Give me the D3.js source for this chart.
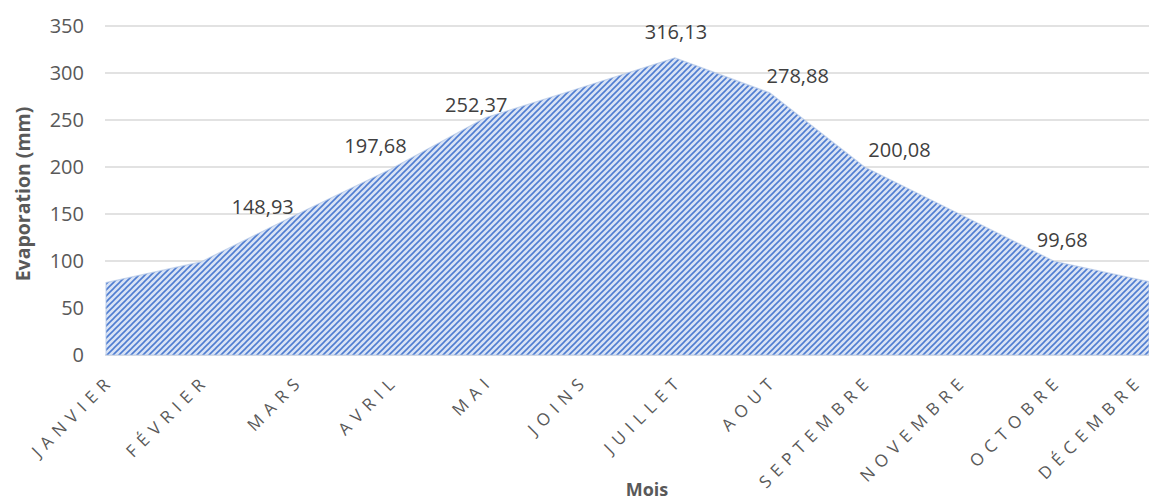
<!DOCTYPE html>
<html>
<head>
<meta charset="utf-8">
<script src="https://cdn.jsdelivr.net/npm/d3@7"></script>
<style>
  html, body { margin: 0; padding: 0; background: #fff; }
  svg { display: block; }
</style>
</head>
<body>
<svg id="chart" width="1149" height="502"></svg>
<script>
// ---- Data ----
const months = ["JANVIER", "FÉVRIER", "MARS", "AVRIL", "MAI", "JOINS", "JUILLET", "AOUT", "SEPTEMBRE", "NOVEMBRE", "OCTOBRE", "DÉCEMBRE"];
const evaporation = [77, 99, 148.93, 197.68, 252.37, 284, 316.13, 278.88, 200.08, 150, 99.68, 78];
const labelled = ["MARS", "AVRIL", "MAI", "JUILLET", "AOUT", "SEPTEMBRE", "OCTOBRE"];
const yTicks = [0, 50, 100, 150, 200, 250, 300, 350];
const yTitle = "Evaporation (mm)";
const xTitle = "Mois";

// ---- Layout ----
const svg = d3.select("#chart");
const plotL = 106, plotR = 1149, plotT = 26, plotB = 355;

const x = d3.scalePoint().domain(months).range([plotL, plotR]);
const y = d3.scaleLinear().domain([0, 350]).range([plotB, plotT]);

// Pattern ("/" diagonal hatch: bottom-left to top-right)
const defs = svg.append("defs");
const pw = 6;
const pat = defs.append("pattern")
  .attr("id", "hatch")
  .attr("patternUnits", "userSpaceOnUse")
  .attr("width", pw).attr("height", pw);
pat.append("rect").attr("width", pw).attr("height", pw).attr("fill", "#d9e3f5");
pat.append("path")
  .attr("d", `M${-1},${1} L${1},${-1} M0,${pw} L${pw},0 M${pw - 1},${pw + 1} L${pw + 1},${pw - 1}`)
  .attr("stroke", "#4f7dd1").attr("stroke-width", 1.6)
  .attr("stroke-linecap", "square");

// Gridlines
svg.append("g")
  .selectAll("line")
  .data(yTicks)
  .join("line")
  .attr("x1", plotL - 1).attr("x2", plotR)
  .attr("y1", d => y(d)).attr("y2", d => y(d))
  .attr("stroke", "#d9d9d9").attr("stroke-width", 1.3);

// Area
const area = d3.area()
  .x((d, i) => x(months[i]))
  .y0(y(0))
  .y1(d => y(d));

svg.append("path")
  .datum(evaporation)
  .attr("d", area)
  .attr("fill", "url(#hatch)")
  .attr("stroke", "#b4c7e7")
  .attr("stroke-width", 1.2)
  .attr("stroke-opacity", 0.7);

// Y axis tick labels
const yAxis = d3.axisLeft(y).tickValues(yTicks).tickSize(0).tickPadding(0);
const gy = svg.append("g").attr("transform", `translate(84,0)`).call(yAxis);
gy.select(".domain").remove();
gy.selectAll("text")
  .attr("font-family", "'Open Sans', sans-serif")
  .attr("font-size", 20)
  .attr("fill", "#595959");

// X axis tick labels
const ls = 6.5;
const xAxis = d3.axisBottom(x).tickSize(0).tickPadding(0);
const gx = svg.append("g").call(xAxis);
gx.select(".domain").remove();
gx.selectAll(".tick").attr("transform", null);
gx.selectAll(".tick text")
  .attr("y", null).attr("dy", null)
  .attr("text-anchor", "end")
  .attr("dx", ls)
  .attr("transform", d => `translate(${Math.min(x(d) + 5, plotR - 9)},386) rotate(-45)`)
  .attr("font-family", "'Open Sans', sans-serif")
  .attr("font-size", 17)
  .attr("letter-spacing", ls)
  .attr("fill", "#595959");

// Data labels (manually placed like the original)
const labelOffset = {
  "MARS": [-33, -1], "AVRIL": [-15, -16], "MAI": [-9, -6],
  "JUILLET": [1, -19], "AOUT": [28, -10], "SEPTEMBRE": [35, -10], "OCTOBRE": [8, -14]
};
const fmt = v => d3.format(".2f")(v).replace(".", ",");
svg.append("g")
  .selectAll("text")
  .data(months.map((m, i) => ({ m, v: evaporation[i] })).filter(d => labelled.includes(d.m)))
  .join("text")
  .attr("x", d => x(d.m) + labelOffset[d.m][0])
  .attr("y", d => y(d.v) + labelOffset[d.m][1])
  .attr("text-anchor", "middle")
  .attr("font-family", "'Open Sans', sans-serif")
  .attr("font-size", 20)
  .attr("fill", "#404040")
  .text(d => fmt(d.v));

// Axis titles
svg.append("text")
  .attr("transform", `translate(30,194) rotate(-90)`)
  .attr("text-anchor", "middle")
  .attr("font-family", "'Open Sans', sans-serif")
  .attr("font-weight", "bold")
  .attr("font-size", 19.5)
  .attr("fill", "#595959")
  .text(yTitle);

svg.append("text")
  .attr("x", 647).attr("y", 496)
  .attr("text-anchor", "middle")
  .attr("font-family", "'Open Sans', sans-serif")
  .attr("font-weight", "bold")
  .attr("font-size", 18)
  .attr("fill", "#595959")
  .text(xTitle);
</script>
</body>
</html>
